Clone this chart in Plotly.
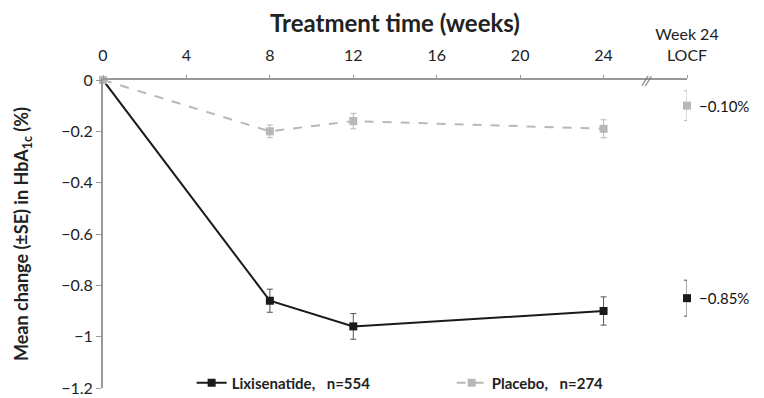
import plotly.graph_objects as go

weeks = [0, 8, 12, 24]
locf_x = 28
lixi_vals = [0, -0.86, -0.96, -0.90]
lixi_se = [0, 0.045, 0.05, 0.055]
lixi_locf = -0.85
lixi_locf_se = 0.07
plac_vals = [0, -0.20, -0.16, -0.19]
plac_se = [0, 0.025, 0.03, 0.035]
plac_locf = -0.10
plac_locf_se = 0.058
x_tickvals = [0, 4, 8, 12, 16, 20, 24, 28]
x_ticktext = ["0", "4", "8", "12", "16", "20", "24", "Week 24<br>LOCF"]
y_tickvals = [0, -0.2, -0.4, -0.6, -0.8, -1, -1.2]
y_ticktext = ["0", "\u22120.2", "\u22120.4", "\u22120.6", "\u22120.8", "\u22121", "\u22121.2"]

FONT = "Lato"
BLACK = "#1a1a1a"
GRAY = "#b8b8b8"

fig = go.Figure()
# Lixisenatide
fig.add_trace(go.Scatter(
    x=weeks, y=lixi_vals, mode="lines+markers", cliponaxis=False,
    line=dict(color=BLACK, width=2),
    marker=dict(symbol="square", size=8, color=BLACK),
    error_y=dict(type="data", array=lixi_se, color="#555555", thickness=1, width=3),
    name="<b>Lixisenatide,</b>   <b>n=554</b>", showlegend=True))
fig.add_trace(go.Scatter(
    x=[locf_x], y=[lixi_locf], mode="markers", cliponaxis=False,
    marker=dict(symbol="square", size=8, color=BLACK),
    error_y=dict(type="data", array=[lixi_locf_se], color="#555555", thickness=1, width=3),
    showlegend=False))
# Placebo
fig.add_trace(go.Scatter(
    x=weeks, y=plac_vals, mode="lines+markers", cliponaxis=False,
    line=dict(color=GRAY, width=2, dash="dash"),
    marker=dict(symbol="square", size=8, color=GRAY),
    error_y=dict(type="data", array=plac_se, color=GRAY, thickness=1, width=3),
    name="<b>Placebo,</b>   <b>n=274</b>", showlegend=True))
fig.add_trace(go.Scatter(
    x=[locf_x], y=[plac_locf], mode="markers", cliponaxis=False,
    marker=dict(symbol="square", size=8, color=GRAY),
    error_y=dict(type="data", array=[plac_locf_se], color=GRAY, thickness=1, width=3),
    showlegend=False))

# value labels
for v in [plac_locf, lixi_locf]:
    fig.add_annotation(x=locf_x, y=v, text="\u2212%.2f%%" % abs(v), showarrow=False,
                       xanchor="left", xshift=10, font=dict(family=FONT, size=15, color="#111"))
# axis break mark
fig.add_annotation(x=26.1, y=0, text="//", showarrow=False,
                   font=dict(family=FONT, size=14, color="#777"), textangle=10)

fig.update_xaxes(
    side="top", range=[0, 28], tickvals=x_tickvals, ticktext=x_ticktext,
    showline=True, linecolor="#999999", linewidth=2, ticks="outside", ticklen=3,
    tickcolor="#999999", showgrid=False, zeroline=False, automargin=False,
    ticklabelstandoff=8,
    tickfont=dict(family=FONT, size=16, color="#222"),
    title=dict(text="<b>Treatment time (weeks)</b>", font=dict(family=FONT, size=24, color="#222"), standoff=10),
    anchor="y")
fig.update_yaxes(
    range=[-1.2, 0], tickvals=y_tickvals, ticktext=y_ticktext,
    showline=True, linecolor="#999999", linewidth=2, ticks="outside", ticklen=5,
    tickcolor="#999999", showgrid=False, zeroline=False, automargin=False,
    tickfont=dict(family=FONT, size=16, color="#222"),
    title=dict(text="<b>Mean change (\u00b1SE) in HbA<sub>1c</sub> (%)</b>",
               font=dict(family=FONT, size=18, color="#222"), standoff=28))

# the page body adds an 8 px offset, so the figure is 8 px smaller and shifted
fig.update_layout(
    width=756, height=390,
    margin=dict(l=95, r=77, t=72, b=10, autoexpand=False),
    paper_bgcolor="white", plot_bgcolor="white",
    legend=dict(orientation="h", x=0.597, y=0.016, xanchor="center", yanchor="middle",
                font=dict(family=FONT, size=15, color="#222"), itemwidth=30,
                bgcolor="rgba(0,0,0,0)", entrywidth=215, entrywidthmode="pixels"),
    showlegend=True)
fig.write_html("out.html")
